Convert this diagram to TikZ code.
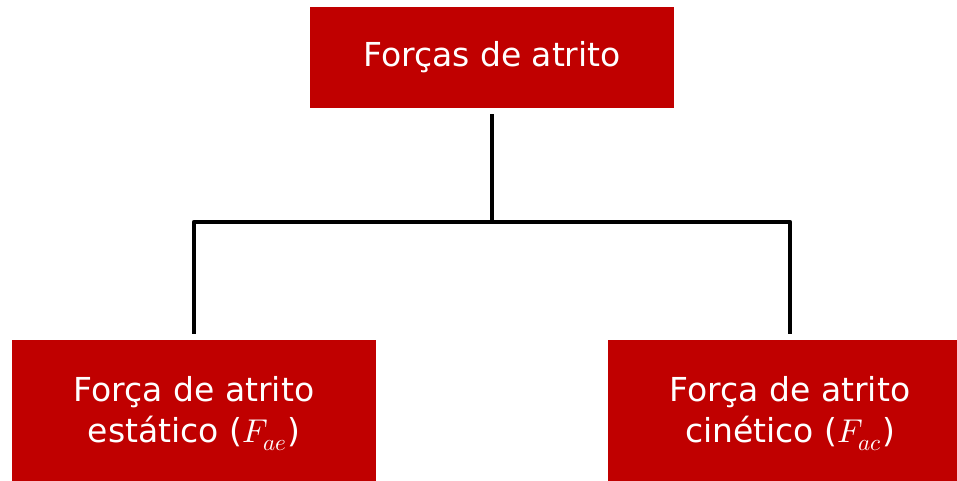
\documentclass[tikz,border=0pt]{standalone}
\usepackage{fontspec}
\usepackage{unicode-math}
\setmainfont{DejaVu Sans}
\setmathfont{Latin Modern Math}
\definecolor{vermelho}{HTML}{C00000}
\begin{document}
\begin{tikzpicture}[x=1pt,y=-1pt]
\tikzstyle{caixa}=[fill=vermelho,text=white,inner sep=0pt,align=center,
  font=\fontsize{33}{41}\selectfont]
\tikzstyle{linha}=[line width=4.5pt,line join=round]
\useasboundingbox (0,0) rectangle (957,480);
\node[caixa,minimum width=364pt,minimum height=101pt] at (492,57.5) (r) {Forças de atrito};
\node[caixa,minimum width=364pt,minimum height=147pt] at (194,413.5) (fe) {Força de atrito\\estático ($F_{ae}$)};
\node[caixa,minimum width=364pt,minimum height=147pt] at (790,413.5) (fc) {Força de atrito\\cinético ($F_{ac}$)};
\coordinate (j) at (492,222);
\draw[linha] ([yshift=-6pt]r.south) -- (j);
\draw[linha] ([yshift=6pt]fe.north) |- (j) -| ([yshift=6pt]fc.north);
\end{tikzpicture}
\end{document}
